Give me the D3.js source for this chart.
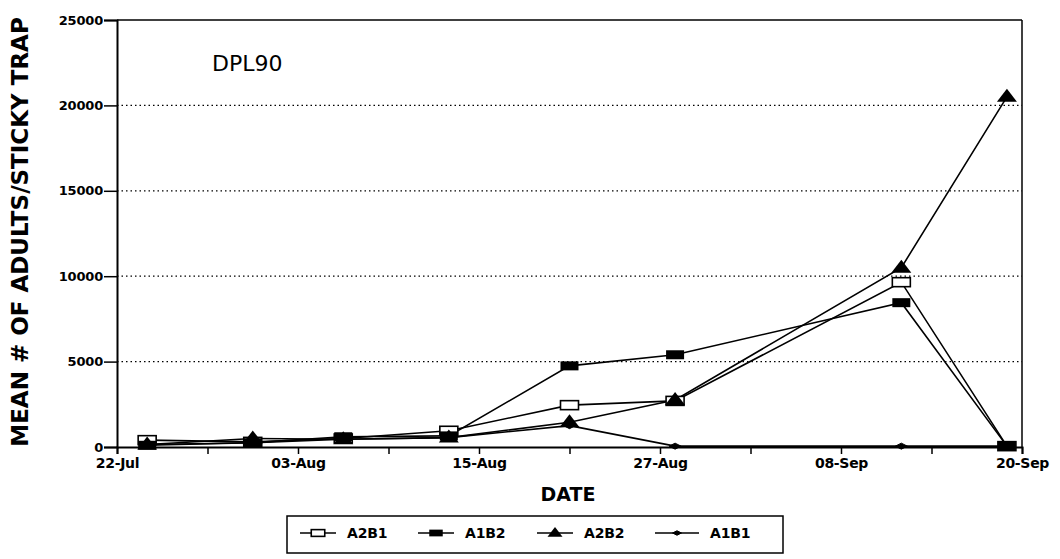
<!DOCTYPE html>
<html>
<head>
<meta charset="utf-8">
<script src="https://cdn.jsdelivr.net/npm/d3@7"></script>
<style>
  html, body { margin: 0; padding: 0; background: #fff; }
  svg { display: block; }
  text { font-family: "DejaVu Sans", sans-serif; fill: #000; }
</style>
</head>
<body>
<svg id="chart" width="1060" height="559"></svg>
<script>
// ---- data ----
const dates = ["1990-07-24","1990-07-31","1990-08-06","1990-08-13","1990-08-21","1990-08-28","1990-09-12","1990-09-19"];
const A2B1 = [400, 300, 500, 950, 2450, 2700, 9650, 50];
const A1B2 = [100, 250, 600, 650, 4750, 5400, 8450, 50];
const A2B2 = [150, 500, 450, 550, 1450, 2750, 10500, 20500];
const A1B1 = [150, 250, 450, 550, 1250, 50, 50, 50];
const seriesNames = ["A2B1", "A1B2", "A2B2", "A1B1"];
const xTickDates = ["1990-07-22","1990-08-03","1990-08-15","1990-08-27","1990-09-08","1990-09-20"];
const xTickLabels = ["22-Jul","03-Aug","15-Aug","27-Aug","08-Sep","20-Sep"];
const xMinorDates = ["1990-07-28","1990-08-09","1990-08-21","1990-09-02","1990-09-14"];
const yTicks = [0, 5000, 10000, 15000, 20000, 25000];
const chartLabel = "DPL90";

// ---- setup ----
const parse = d3.timeParse("%Y-%m-%d");
const svg = d3.select("#chart");
const L = 117, R = 1022, T = 20, B = 447;
const x = d3.scaleTime().domain([parse("1990-07-22"), parse("1990-09-20")]).range([L, R]);
const y = d3.scaleLinear().domain([0, 25000]).range([B, T]);

// gridlines (dotted)
svg.append("g").selectAll("line").data(yTicks.filter(v => v > 0 && v < 25000)).join("line")
  .attr("x1", L).attr("x2", R).attr("y1", d => y(d)).attr("y2", d => y(d))
  .attr("stroke", "#000").attr("stroke-width", 1.3).attr("stroke-dasharray", "1.5,3");

// top and right border
svg.append("line").attr("x1", L).attr("x2", R).attr("y1", y(25000)).attr("y2", y(25000))
  .attr("stroke", "#000").attr("stroke-width", 1.5);
svg.append("line").attr("x1", R).attr("x2", R).attr("y1", T).attr("y2", B)
  .attr("stroke", "#000").attr("stroke-width", 1.5);

// y axis
const yAxis = d3.axisLeft(y).tickValues(yTicks).tickSize(13).tickPadding(1).tickFormat(d3.format("d"));
const gy = svg.append("g").attr("transform", `translate(${L},0)`).call(yAxis);
gy.select(".domain").attr("stroke-width", 2);
gy.selectAll(".tick line").attr("stroke-width", 1.5);
gy.selectAll("text").attr("font-size", 13).attr("font-weight", "bold").style("letter-spacing", "-0.2px");

// x axis
const xAxis = d3.axisBottom(x).tickValues(xTickDates.map(parse)).tickSize(7).tickPadding(4)
  .tickFormat((d, i) => xTickLabels[i]);
const gx = svg.append("g").attr("transform", `translate(0,${B})`).call(xAxis);
gx.select(".domain").attr("stroke-width", 2);
gx.selectAll(".tick line").attr("stroke-width", 1.5);
gx.selectAll("text").attr("font-size", 14).attr("font-weight", "bold").style("letter-spacing", "-0.3px");
const xMinor = d3.axisBottom(x).tickValues(xMinorDates.map(parse)).tickSize(7).tickFormat("");
const gxm = svg.append("g").attr("transform", `translate(0,${B})`).call(xMinor);
gxm.select(".domain").remove();
gxm.selectAll(".tick line").attr("stroke-width", 1.5);

// axis titles
svg.append("text").attr("x", 568).attr("y", 501).attr("text-anchor", "middle")
  .attr("font-size", 19).attr("font-weight", "bold").text("DATE");
svg.append("text").attr("transform", "translate(28,232) rotate(-90)").attr("text-anchor", "middle")
  .attr("font-size", 23).attr("font-weight", "bold")
  .text("MEAN # OF ADULTS/STICKY TRAP");
svg.append("text").attr("x", 212).attr("y", 71).attr("font-family", "Liberation Sans, Arial, sans-serif")
  .attr("font-size", 22).text(chartLabel);

// ---- series ----
const allSeries = [A2B1, A1B2, A2B2, A1B1];
const line = d3.line().x(d => x(d.date)).y(d => y(d.v));
const markerFns = {
  A2B1: (g, s) => g.append("rect").attr("x", -9 * s).attr("y", -4.5 * s).attr("width", 18 * s).attr("height", 9 * s)
    .attr("fill", "#fff").attr("stroke", "#000").attr("stroke-width", 1.6),
  A1B2: (g, s) => g.append("rect").attr("x", -9 * s).attr("y", -4.5 * s).attr("width", 18 * s).attr("height", 9 * s)
    .attr("fill", "#000"),
  A2B2: (g, s) => g.append("path").attr("d", `M0,${-8 * s} L${10 * s},${5 * s} L${-10 * s},${5 * s} Z`).attr("fill", "#000"),
  A1B1: (g, s) => g.append("path").attr("d", `M${-6 * s},0 L0,${-3 * s} L${6 * s},0 L0,${3 * s} Z`).attr("fill", "#000").attr("stroke", "#000").attr("stroke-width", 1)
};

seriesNames.forEach((name, si) => {
  const pts = dates.map((d, i) => ({ date: parse(d), v: allSeries[si][i] }));
  svg.append("path").datum(pts).attr("d", line).attr("fill", "none")
    .attr("stroke", "#000").attr("stroke-width", 1.6);
});
// marker stacking order: A1B1, A2B1, A2B2, A1B2 (last on top)
[3, 0, 2, 1].forEach(si => {
  const name = seriesNames[si];
  dates.forEach((d, i) => {
    const g = svg.append("g").attr("transform", `translate(${x(parse(d))},${y(allSeries[si][i])})`);
    markerFns[name](g, 1);
  });
});

// ---- legend ----
const lg = svg.append("g");
lg.append("rect").attr("x", 287).attr("y", 516).attr("width", 496).attr("height", 37)
  .attr("fill", "#fff").attr("stroke", "#000").attr("stroke-width", 1.5);
const legX = [300, 418, 537, 655];
seriesNames.forEach((name, i) => {
  const cx = legX[i];
  const lineLen = name === "A1B1" ? 44 : 36;
  lg.append("line").attr("x1", cx).attr("x2", cx + lineLen).attr("y1", 533).attr("y2", 533)
    .attr("stroke", "#000").attr("stroke-width", 1.6);
  const g = lg.append("g").attr("transform", `translate(${cx + lineLen / 2},533)`);
  markerFns[name](g, 0.75);
  lg.append("text").attr("x", cx + lineLen + 11).attr("y", 538).attr("font-size", 14)
    .attr("font-weight", "bold").style("letter-spacing", "-0.2px").text(name);
});
</script>
</body>
</html>
